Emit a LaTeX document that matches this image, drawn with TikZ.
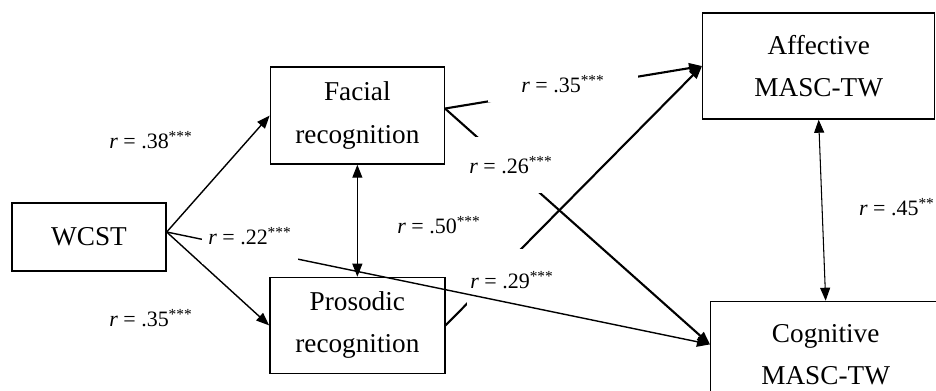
\documentclass[tikz,border=0pt]{standalone}
\usepackage{fontspec}
\setmainfont{Liberation Serif}
\usetikzlibrary{arrows.meta,positioning}
\newcommand{\rval}[2]{\textit{r} = .#1\textsuperscript{#2}}

\begin{document}
\begin{tikzpicture}[
  x=0.02cm,y=-0.02cm,
  measure/.style={draw,line width=0.8pt,align=center,inner sep=0pt,font=\fontsize{15.5}{24}\selectfont},
  coef/.style={inner sep=1pt,font=\fontsize{12.5}{15}\selectfont},
  gapcoef/.style={coef,fill=white},
  link/.style={-{Triangle[length=2.6mm,width=2mm]},line width=0.8pt},
  bold/.style={link,line width=1.2pt},
  corr/.style={{Triangle[length=2.6mm,width=2mm]}-{Triangle[length=2.6mm,width=2mm]},line width=0.6pt}
]
\useasboundingbox (0,0) rectangle (936,390);
\node[measure,minimum width=3.08cm,minimum height=1.36cm] (wcst) at (89,237) {WCST};
\node[measure,minimum width=3.48cm,minimum height=1.94cm,right=2.06cm of wcst,yshift=2.43cm] (facial) {Facial\\recognition};
\node[measure,minimum width=3.5cm,minimum height=1.92cm,below=2.24cm of facial] (prosodic) {Prosodic\\recognition};
\node[measure,minimum width=4.64cm,minimum height=2.12cm,right=5.14cm of facial,yshift=0.99cm] (affective) {Affective\\MASC-TW};
\node[measure,minimum width=4.6cm,minimum height=2.12cm,below=3.62cm of affective,xshift=0.14cm] (cognitive) {Cognitive\\MASC-TW};
\draw[link] ([yshift=0.1cm]wcst.east) -- (facial.west);
\draw[link] ([yshift=0.1cm]wcst.east) -- (prosodic.west);
\draw[corr] (facial.south) -- (prosodic.north);
\draw[corr] (affective.south) -- (cognitive.north);
\draw[bold] ([yshift=0.14cm]facial.east) -- (affective.west);
\draw[bold] ([yshift=0.14cm]facial.east) -- ([yshift=0.2cm]cognitive.west);
\draw[bold] (prosodic.east) -- (affective.west);
% labels that break the lines
\node[gapcoef,minimum width=3cm,minimum height=0.72cm] (r35a) at (563,84) {\rval{35}{***}};
\node[gapcoef,minimum width=1.8cm,minimum height=1.12cm] (r26) at (511,165) {\rval{26}{***}};
\node[gapcoef,minimum width=1.8cm,minimum height=1.24cm] (r29) at (512,280) {\rval{29}{***}};
\draw[link] ([yshift=0.1cm]wcst.east) -- ([yshift=0.2cm]cognitive.west);
\node[gapcoef,minimum width=1.92cm,minimum height=1.12cm] (r22) at (250,236) {\rval{22}{***}};
\node[coef] (r38) at (151,140) {\rval{38}{***}};
\node[coef] (r35b) at (151,318) {\rval{35}{***}};
\node[coef] (r50) at (439,225) {\rval{50}{***}};
\node[coef,anchor=west] (r45) at (857,207) {\rval{45}{**}};
\end{tikzpicture}
\end{document}
